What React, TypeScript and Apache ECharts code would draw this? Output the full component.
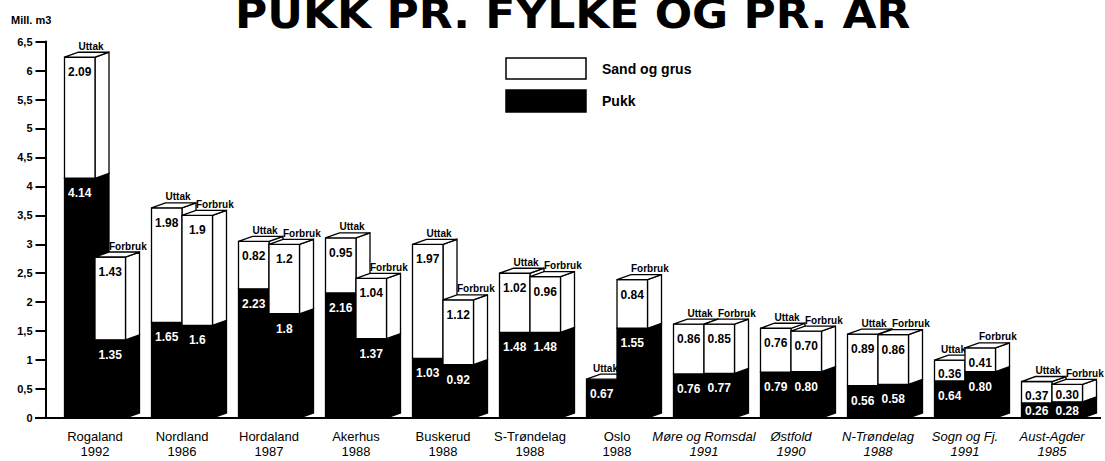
import React, { useEffect, useRef } from "react";
import * as echarts from "echarts";

const counties = ["Rogaland", "Nordland", "Hordaland", "Akerhus", "Buskerud", "S-Trøndelag", "Oslo", "Møre og Romsdal", "Østfold", "N-Trøndelag", "Sogn og Fj.", "Aust-Agder"];
const years = ["1992", "1986", "1987", "1988", "1988", "1988", "1988", "1991", "1990", "1988", "1991", "1985"];
const italicLabel = [false, false, false, false, false, false, false, true, true, true, true, true];
const uttakPukk = [4.14, 1.65, 2.23, 2.16, 1.03, 1.48, 0.67, 0.76, 0.79, 0.56, 0.64, 0.26];
const uttakSand = [2.09, 1.98, 0.82, 0.95, 1.97, 1.02, 0, 0.86, 0.76, 0.89, 0.36, 0.37];
const forbrukPukk = [1.35, 1.6, 1.8, 1.37, 0.92, 1.48, 1.55, 0.77, 0.8, 0.58, 0.8, 0.28];
const forbrukSand = [1.43, 1.9, 1.2, 1.04, 1.12, 0.96, 0.84, 0.85, 0.7, 0.86, 0.41, 0.3];
const barNames = ["Uttak", "Forbruk"];
const legendNames = ["Sand og grus", "Pukk"];
const titleText = "PUKK PR. FYLKE OG PR. ÅR";
const unitText = "Mill. m3";

const FONT = "'Liberation Sans', Arial, sans-serif";
const W = 30.5;
const DX = 14;
const DY = 5;

function fmt(v: number) {
  return v < 1 ? v.toFixed(2) : String(v);
}

export default function App() {
  const ref = useRef<HTMLDivElement>(null);
  useEffect(() => {
    if (!ref.current) return;
    const chart = echarts.init(ref.current, null, { renderer: "svg" });
    const data = counties.map((_, i) => [i, uttakPukk[i], uttakSand[i], forbrukPukk[i], forbrukSand[i]]);

    const renderItem = (params: any, api: any) => {
      const i = api.value(0);
      const base = api.coord([i, 0]);
      const cx = base[0];
      const y0 = base[1];
      const yOf = (v: number) => api.coord([i, v])[1];
      const children: any[] = [];
      const bars = [
        { name: barNames[0], left: cx - W, pukk: api.value(1), sand: api.value(2) },
        { name: barNames[1], left: cx, pukk: api.value(3), sand: api.value(4) },
      ];
      const forbrukTop = yOf(bars[1].pukk + bars[1].sand);
      bars.forEach((b, bi) => {
        const L = b.left;
        const R = L + W;
        const segs: any[] = [{ from: 0, to: b.pukk, fill: "#000", txt: "#fff", v: b.pukk }];
        if (b.sand > 0) segs.push({ from: b.pukk, to: b.pukk + b.sand, fill: "#fff", txt: "#000", v: b.sand });
        segs.forEach((s) => {
          const yb = s.from === 0 ? y0 : yOf(s.from);
          const yt = yOf(s.to);
          children.push({
            type: "polygon",
            shape: { points: [[R, yb], [R + DX, yb - DY], [R + DX, yt - DY], [R, yt]] },
            style: { fill: s.fill, stroke: "#000", lineWidth: 1.3 },
          });
          children.push({
            type: "rect",
            shape: { x: L, y: yt, width: W, height: yb - yt },
            style: { fill: s.fill, stroke: "#000", lineWidth: 1.3 },
          });
        });
        const top = yOf(b.pukk + b.sand);
        children.push({
          type: "polygon",
          shape: { points: [[L, top], [L + DX, top - DY], [R + DX, top - DY], [R, top]] },
          style: { fill: "#fff", stroke: "#000", lineWidth: 1.3 },
        });
        segs.forEach((s) => {
          const yb = s.from === 0 ? y0 : yOf(s.from);
          const yt = yOf(s.to);
          children.push({
            type: "text",
            style: {
              text: fmt(s.v),
              x: L + W / 2,
              y: Math.min(yt + 15, yb - 7),
              fill: s.txt,
              fontSize: 12,
              fontWeight: "bold",
              fontFamily: FONT,
              align: "center",
              verticalAlign: "middle",
            },
          });
        });
        const ly = top - 11;
        let lx = L + 14;
        let align = "left";
        if (bi === 0 && forbrukTop < ly + 6) {
          lx = R + 1;
          align = "right";
        }
        children.push({
          type: "text",
          style: {
            text: b.name,
            x: lx,
            y: ly,
            fill: "#000",
            fontSize: 10,
            fontWeight: "bold",
            fontFamily: FONT,
            align,
            verticalAlign: "middle",
          },
        });
      });
      return { type: "group", children };
    };

    chart.setOption({
      animation: false,
      grid: { left: 51.5, right: 9.5, top: 41.6, bottom: 43 },
      xAxis: {
        type: "category",
        data: counties,
        axisLine: { show: false },
        axisTick: { show: false },
        axisLabel: {
          interval: 0,
          margin: 11,
          formatter: (v: string, idx: number) => {
            const k = italicLabel[idx] ? "i" : "n";
            return `{${k}|${v}}\n{${k}|${years[idx]}}`;
          },
          rich: {
            n: { fontSize: 13, fontFamily: FONT, lineHeight: 15, color: "#000" },
            i: { fontSize: 13, fontFamily: FONT, lineHeight: 15, color: "#000", fontStyle: "italic" },
          },
        },
      },
      yAxis: {
        type: "value",
        min: 0,
        max: 6.5,
        interval: 0.5,
        offset: 6,
        axisLine: { show: true, lineStyle: { color: "#000", width: 2 } },
        axisTick: { show: true, length: 10, lineStyle: { color: "#000", width: 2 } },
        splitLine: { show: false },
        axisLabel: {
          margin: 13,
          color: "#000",
          fontSize: 11,
          fontWeight: "bold",
          fontFamily: FONT,
          formatter: (v: number) => String(v).replace(".", ","),
        },
      },
      graphic: [
        {
          type: "text",
          x: 235,
          y: -6,
          scaleX: 1.1,
          style: { text: titleText, fill: "#000", fontSize: 40, fontWeight: "bold", fontFamily: "'DejaVu Sans', sans-serif" },
        },
        {
          type: "text",
          x: 11,
          y: 20,
          style: { text: unitText, fill: "#000", fontSize: 11, fontWeight: "bold", fontFamily: FONT, verticalAlign: "middle" },
        },
        {
          type: "line",
          shape: { x1: 35, y1: 418, x2: 1101, y2: 418 },
          style: { stroke: "#000", lineWidth: 2 },
        },
        {
          type: "rect",
          shape: { x: 506, y: 58, width: 80, height: 21 },
          style: { fill: "#fff", stroke: "#000", lineWidth: 1.5 },
        },
        {
          type: "rect",
          shape: { x: 506, y: 90, width: 80, height: 22 },
          style: { fill: "#000", stroke: "#000", lineWidth: 1.5 },
        },
        {
          type: "text",
          x: 602,
          y: 69,
          style: { text: legendNames[0], fill: "#000", fontSize: 14, fontWeight: "bold", fontFamily: FONT, verticalAlign: "middle" },
        },
        {
          type: "text",
          x: 602,
          y: 101,
          style: { text: legendNames[1], fill: "#000", fontSize: 14, fontWeight: "bold", fontFamily: FONT, verticalAlign: "middle" },
        },
      ],
      series: [
        {
          type: "custom",
          renderItem,
          data,
          clip: false,
        },
      ],
    });
    return () => chart.dispose();
  }, []);
  return <div ref={ref} style={{ width: 1105, height: 461, position: "absolute", left: 0, top: 0, background: "#fff" }} />;
}
